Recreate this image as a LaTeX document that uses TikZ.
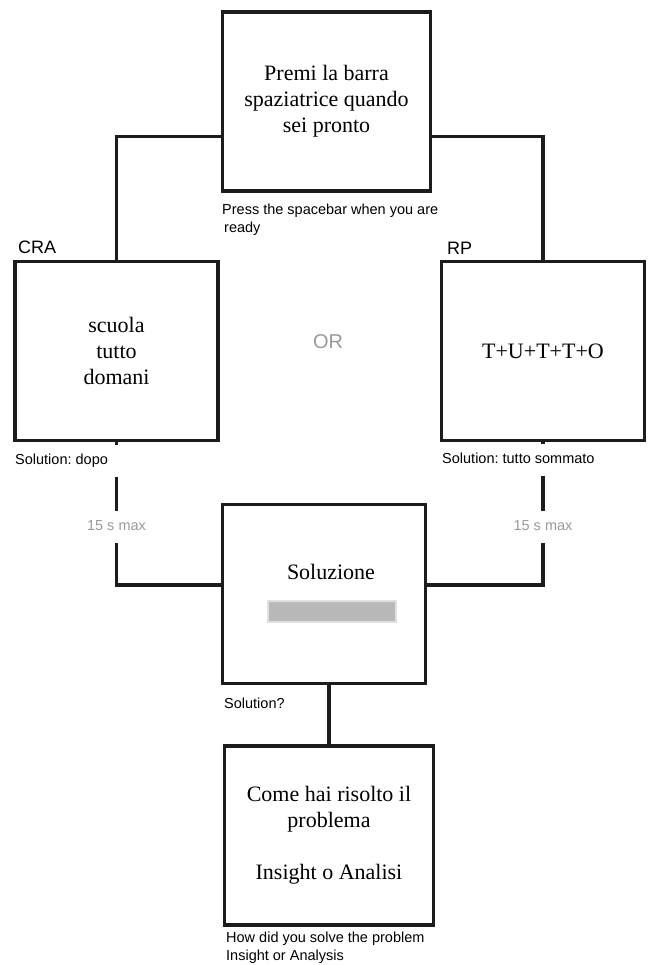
\documentclass[tikz,border=0pt]{standalone}
\usepackage{fontspec}
\setmainfont{Liberation Serif}
\newfontfamily\hv{Liberation Sans}
\frenchspacing

\definecolor{ink}{HTML}{1C1C1C}
\definecolor{note}{HTML}{9A9A9A}
\definecolor{blank}{HTML}{B9B9B9}

\begin{document}
\begin{tikzpicture}[x=1pt, y=-1pt,
    screen/.style={draw=ink, line width=3.2pt, minimum width=203pt, minimum height=179pt,
      align=center, inner sep=0pt, font=\fontsize{22}{26}\selectfont},
    link/.style={draw=ink, line width=3.2pt},
    caption/.style={font=\hv\fontsize{14.5}{17.5}\selectfont, align=left, inner sep=0pt},
    cover/.style={caption, fill=white, inner xsep=10pt, inner ysep=9pt,
      text height=10.5pt, text depth=3pt},
    grey/.style={cover, text=note, anchor=center}]
  \useasboundingbox (0,0) rectangle (647,965);

  \node[screen, minimum width=208pt] (top) at (326.5,101.5)
    {Premi la barra\\spaziatrice quando\\sei pronto};
  \node[screen] (cra) at (116.5,351) {scuola\\tutto\\domani};
  \node[screen] (rp) at (543,351) {T+U+T+T+O};
  \node[screen] (sol) at (324,594) {};
  \node[screen, minimum width=209pt] (fin) at (329,835.5)
    {Come hai risolto il\\problema\\[26pt]Insight o Analisi};

  \node[font=\fontsize{22}{26}\selectfont, inner sep=0pt] (soltxt) at (331,572) {Soluzione};
  \node[fill=blank, draw=black!12, line width=1.5pt, minimum width=128pt,
    minimum height=21pt, inner sep=0pt] (answer) at (332,611.5) {};

  \draw[link] ([yshift=-35pt]top.west) -| (cra.north);
  \draw[link] ([yshift=-35pt]top.east) -| (rp.north);
  \draw[link] (cra.south) |- ([yshift=9pt]sol.west);
  \draw[link] (rp.south) |- ([yshift=9pt]sol.east);
  \draw[link] (fin.north |- sol.south) -- (fin.north);

  \node[caption, anchor=north west] (press) at (222,204)
    {Press the spacebar when you are\\\hspace{2pt}ready};
  \node[caption, anchor=west, font=\hv\fontsize{18}{21}\selectfont] (cralab) at (18,247) {CRA};
  \node[caption, anchor=west, font=\hv\fontsize{18}{21}\selectfont] (rplab) at (447,248) {RP};
  \node[caption, text=note, font=\hv\fontsize{20}{24}\selectfont] (or) at (328,342) {OR};

  \node[cover, anchor=west] (soldopo) at (5,461) {Solution: dopo};
  \node[cover, anchor=west] (soltutto) at (432,460) {Solution: tutto sommato};
  \node[grey] (maxl) at (cra.south |- 0,527) {15 s max};
  \node[grey] (maxr) at (rp.south |- 0,527) {15 s max};

  \node[caption, anchor=west] (solq) at (224,703) {Solution?};
  \node[caption, anchor=north west] (how) at (226,932)
    {How did you solve the problem\\Insight or Analysis};
\end{tikzpicture}
\end{document}
